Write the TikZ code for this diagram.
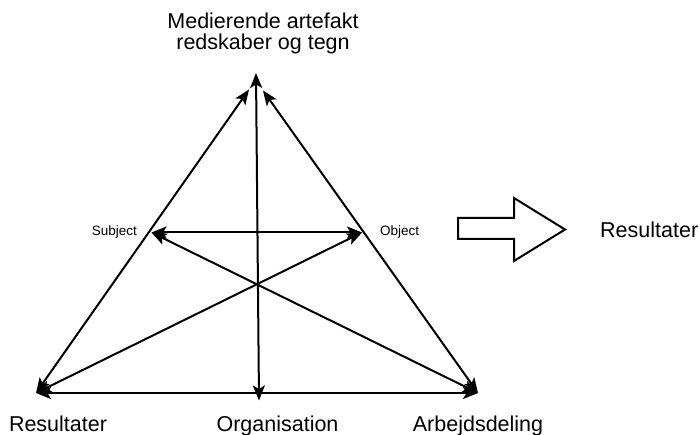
\documentclass[tikz,border=0pt]{standalone}
\usepackage{fontspec}
\setmainfont{Liberation Sans}
\usetikzlibrary{arrows.meta}
\begin{document}
\begin{tikzpicture}[x=1pt,y=-1pt,
  tipstyle/.tip={Stealth[length=15pt,width=12pt,inset=3.5pt]},
  conn/.style={line width=2pt, tipstyle-tipstyle},
  biglbl/.style={font=\fontsize{21.5}{20.5}\selectfont, inner sep=0pt},
  smalllbl/.style={font=\fontsize{13.5}{15}\selectfont, inner sep=0pt},
  blockarrow/.style={draw=black, line width=2pt, fill=white, line join=miter}]
\useasboundingbox (0,0) rectangle (700,435);

% points of the triangle
\coordinate (A)  at (256,73);
\coordinate (AL) at (249,89.5);
\coordinate (AR) at (263,90.5);
\coordinate (L)  at (36,393);
\coordinate (R)  at (478,393);
\coordinate (B)  at (259,400.5);
\coordinate (S)  at (151.5,232.5);
\coordinate (O)  at (362,232.5);

% connectors
\draw[conn] (L) -- (AL);
\draw[conn] (R) -- (AR);
\draw[conn] (L) -- (R);
\draw[conn] (A) -- (B);
\draw[conn] (S) -- (O);
\draw[conn] (L) -- (O);
\draw[conn] (S) -- (R);

% labels
\node[biglbl, align=center, anchor=north] (title) at (263,13)
  {Medierende artefakt\\redskaber og tegn};
\node[smalllbl, anchor=base east] (subj) at (137,235.5) {Subject};
\node[smalllbl, anchor=base west] (obj) at (380,235.5) {Object};
\node[biglbl, anchor=base] (res) at (58,431) {Resultater};
\node[biglbl, anchor=base] (org) at (277.5,431) {Organisation};
\node[biglbl, anchor=base] (arb) at (478,431) {Arbejdsdeling};
\node[biglbl, anchor=base west] (res2) at (600,237) {Resultater};

% block arrow
\draw[blockarrow] (458,218) -- (514,218) -- (514,198) -- (565,229.5)
  -- (514,261) -- (514,239) -- (458,239) -- cycle;
\end{tikzpicture}
\end{document}
